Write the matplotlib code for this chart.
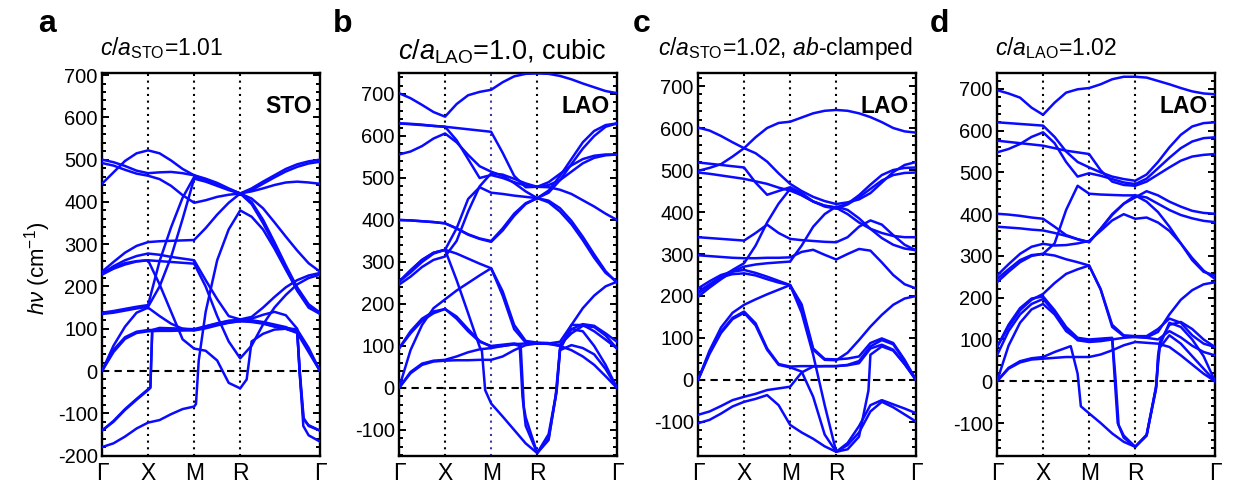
import numpy as np
import matplotlib
matplotlib.use("Agg")
import matplotlib.pyplot as plt
from matplotlib.ticker import MultipleLocator

plt.rcParams["font.family"] = "Liberation Sans"
plt.rcParams["mathtext.fontset"] = "custom"
plt.rcParams["mathtext.rm"] = "Liberation Sans"
plt.rcParams["mathtext.it"] = "Liberation Sans:italic"
plt.rcParams["axes.unicode_minus"] = False

# high-symmetry path  G-X-M-R-G
kpt_labels = ["Γ", "X", "M", "R", "Γ"]
kpt_nodes = [0.0, 1.0, 2.0, 3.0, 3.0 + np.sqrt(3.0)]
# sampling positions along the path (quarter steps, 7 steps on R-G)
k = np.concatenate([np.linspace(0, 1, 5), np.linspace(1, 2, 5)[1:],
                    np.linspace(2, 3, 5)[1:], np.linspace(3, kpt_nodes[4], 8)[1:]])

# ---- (a) STO c/a=1.01, frequencies in cm-1
bands_a = [
    [443, 470, 497, 515, 522, 515, 498, 478, 463, 452, 440, 430, 420, 432, 448, 463, 478, 489, 496, 500],
    [500, 494, 485, 474, 468, 470, 471, 468, 463, 455, 445, 432, 420, 428, 443, 458, 472, 483, 491, 495],
    [492, 486, 476, 467, 462, 454, 438, 416, 398, 404, 412, 417, 420, 425, 432, 440, 446, 448, 446, 443],
    [235, 258, 280, 296, 305, 307, 308, 309, 310, 338, 370, 398, 420, 408, 385, 352, 318, 285, 255, 235],
    [228, 242, 252, 259, 262, 260, 258, 256, 254, 200, 130, 70, 30, 60, 110, 150, 180, 205, 220, 228],
    [232, 245, 255, 260, 262, 205, 140, 75, 53, 48, 25, -28, -41, 70, 88, 98, 100, 90, 45, 0],
    [138, 142, 147, 152, 156, 260, 340, 410, 459, 450, 440, 430, 420, 400, 358, 305, 250, 198, 158, 138],
    [135, 138, 143, 148, 152, 200, 270, 360, 455, 448, 438, 428, 420, 395, 350, 298, 243, 190, 150, 135],
    [-180, -171, -155, -136, -122, -116, -102, -90, -84, 140, 262, 335, 380, 365, 335, 290, 240, 192, 155, 137],
    [0, 50, 80, 93, 97, 97, 97, 97, 98, 104, 110, 116, 120, 124, 133, 140, 132, 100, -152, -167],
    [0, 45, 76, 90, 94, 95, 95, 96, 96, 101, 108, 114, 118, 118, 114, 108, 102, 98, 55, 0],
    [0, 60, 105, 138, 150, 130, 112, 100, 97, 103, 110, 115, 118, 116, 112, 105, 100, 92, -128, -141],
    [-141, -120, -92, -68, -45, 100, 100, 99, 97, 105, 112, 118, 120, 119, 113, 106, 100, 95, -130, -141],
    [-141, -118, -90, -66, -43, 102, 101, 100, 99, 106, 113, 119, 121, 120, 116, 110, 104, 92, 50, 0],
    [230, 248, 262, 272, 278, 275, 270, 266, 262, 215, 170, 130, 122, 128, 150, 175, 198, 215, 226, 232],
]
# extra (k, freq) readings where a branch turns sharply
extra_a = {
    5: [(3.14, -20)],
    8: [(2.04, -78), (2.10, 25)],
    9: [(4.29, 0), (4.37, -130)],
    11: [(4.30, -10), (4.38, -115)],
    12: [(1.05, -40), (1.09, 95), (4.29, -5), (4.37, -110)],
    13: [(1.05, -38), (1.09, 97)],
}

# ---- (b) LAO cubic
bands_b = [
    [702, 690, 674, 657, 646, 676, 697, 705, 710, 728, 742, 748, 749, 748, 743, 735, 725, 716, 707, 702],
    [630, 629, 627, 624, 622, 619, 616, 613, 610, 560, 505, 478, 479, 478, 472, 462, 447, 432, 415, 400],
    [556, 563, 576, 594, 606, 585, 555, 528, 515, 505, 488, 468, 452, 465, 495, 533, 570, 600, 622, 630],
    [630, 628, 626, 624, 622, 590, 545, 500, 507, 500, 490, 482, 479, 483, 495, 515, 535, 548, 554, 556],
    [400, 399, 397, 395, 392, 380, 365, 355, 348, 375, 410, 438, 452, 470, 505, 545, 585, 612, 626, 630],
    [253, 275, 300, 320, 329, 380, 450, 478, 465, 462, 458, 455, 452, 442, 420, 390, 352, 310, 274, 253],
    [246, 265, 288, 305, 313, 350, 420, 480, 511, 508, 498, 487, 479, 490, 510, 530, 545, 553, 556, 556],
    [253, 280, 305, 322, 329, 320, 308, 296, 285, 220, 140, 108, 106, 106, 110, 150, 190, 220, 242, 253],
    [94, 135, 165, 182, 188, 170, 140, 112, 98, 100, 104, 106, 106, 105, 103, 130, 148, 145, 125, 94],
    [0, 90, 150, 190, 211, 232, 250, 268, 285, 230, 150, 112, 108, 107, 100, 140, 135, 100, 55, 0],
    [0, 35, 55, 63, 65, 66, 66, 67, 67, 75, 90, 102, 106, 105, 100, 90, 75, 55, 28, 0],
    [0, 38, 58, 65, 67, 75, 85, 92, 95, 100, 104, -90, -155, -124, 90, 102, 95, 80, 45, 0],
    [253, 280, 305, 322, 329, 257, 178, 98, -37, -68, -100, -132, -155, -120, 90, 150, 150, 135, 115, 94],
    [400, 399, 397, 395, 392, 380, 366, 356, 350, 380, 415, 440, 452, 446, 428, 398, 360, 318, 278, 250],
    [94, 130, 160, 178, 188, 165, 135, 110, 100, 103, 106, -70, -155, -110, 95, 140, 152, 148, 130, 110],
]
extra_b = {
    11: [(2.62, 100), (2.68, -20), (3.42, -5)],
    12: [(1.80, 88), (1.87, -5), (3.42, -10)],
    14: [(2.64, 103), (2.71, -45), (3.40, -20)],
}

# ---- (c) LAO on STO, c/a=1.02, ab-clamped
bands_c = [
    [498, 505, 514, 532, 552, 578, 600, 612, 615, 625, 635, 641, 643, 641, 635, 626, 614, 600, 592, 589],
    [601, 594, 581, 566, 552, 540, 520, 492, 467, 450, 436, 426, 419, 423, 430, 445, 470, 495, 512, 519],
    [518, 515, 512, 509, 506, 470, 441, 450, 459, 445, 425, 415, 411, 420, 440, 465, 488, 500, 505, 506],
    [494, 491, 487, 483, 479, 473, 467, 458, 451, 440, 425, 413, 408, 418, 435, 455, 475, 488, 493, 494],
    [340, 338, 336, 334, 332, 350, 370, 350, 336, 333, 331, 329, 328, 340, 365, 380, 370, 345, 322, 309],
    [297, 295, 293, 291, 290, 290, 291, 291, 292, 305, 310, 298, 287, 300, 312, 308, 280, 250, 228, 218],
    [206, 225, 245, 262, 278, 320, 375, 420, 455, 440, 425, 415, 410, 395, 375, 360, 350, 343, 340, 340],
    [198, 220, 240, 258, 270, 275, 278, 280, 282, 320, 365, 395, 413, 405, 385, 360, 338, 322, 313, 309],
    [218, 235, 250, 258, 262, 255, 246, 236, 226, 180, 75, 50, 49, 51, 56, 88, 99, 88, 48, 0],
    [0, 70, 125, 160, 179, 192, 204, 215, 226, 170, 72, 48, 47, 65, 95, 127, 155, 179, 194, 200],
    [0, 65, 115, 148, 163, 135, 75, 38, 32, 33, 33, 33, 33, 35, 40, 75, 84, 72, 38, 0],
    [-83, -75, -62, -48, -40, -33, -24, -20, -16, 18, 32, 33, 33, 36, 45, 80, 95, 85, 45, 0],
    [-103, -95, -80, -63, -52, -45, -36, -60, -107, -125, -140, -158, -171, -155, -125, -75, -52, -65, -82, -99],
    [0, 62, 112, 145, 160, 130, 72, 36, 30, 20, -40, -130, -171, -150, -110, -60, -48, -58, -68, -79],
    [210, 228, 245, 252, 254, 249, 240, 232, 226, 160, 60, -60, -171, -165, -135, 60, 80, 70, 38, 0],
]
extra_c = {
    14: [(3.70, -25)],
}

# ---- (d) LAO c/a=1.02
bands_d = [
    [697, 689, 679, 655, 638, 667, 691, 699, 702, 711, 723, 729, 729, 727, 719, 711, 702, 694, 689, 687],
    [620, 618, 616, 614, 612, 585, 550, 525, 512, 500, 490, 484, 480, 495, 525, 560, 590, 610, 618, 620],
    [548, 556, 568, 585, 596, 570, 525, 490, 498, 492, 484, 476, 472, 485, 510, 535, 558, 574, 582, 584],
    [576, 573, 570, 567, 564, 558, 552, 548, 544, 505, 478, 470, 468, 478, 495, 512, 528, 538, 542, 544],
    [401, 399, 396, 392, 389, 370, 350, 340, 333, 365, 400, 425, 440, 455, 445, 430, 418, 408, 403, 401],
    [370, 368, 366, 363, 361, 355, 348, 340, 333, 365, 398, 425, 445, 440, 425, 410, 398, 390, 384, 381],
    [245, 268, 290, 302, 305, 330, 410, 468, 449, 447, 446, 445, 445, 430, 405, 370, 330, 290, 262, 253],
    [253, 280, 305, 322, 329, 325, 326, 330, 336, 360, 385, 400, 389, 392, 380, 360, 330, 295, 265, 245],
    [237, 262, 285, 300, 305, 301, 292, 285, 277, 220, 130, 108, 106, 105, 118, 160, 195, 218, 232, 237],
    [82, 130, 170, 195, 209, 235, 257, 268, 277, 220, 135, 110, 108, 108, 125, 150, 140, 110, 90, 82],
    [62, 120, 160, 185, 197, 165, 125, 98, 94, 96, 100, 104, 106, 104, 100, 120, 105, 85, 70, 62],
    [0, 30, 45, 52, 54, 56, 58, 58, 58, 64, 74, 86, 94, 92, 90, 82, 62, 40, 18, 0],
    [0, 32, 48, 55, 58, 70, 80, 18, -77, -100, -125, -145, -157, -130, 40, 110, 90, 60, 30, 0],
    [0, 85, 140, 172, 185, 160, 120, 100, 96, 100, 103, -135, -157, -130, 50, 140, 130, 100, 60, 0],
    [82, 135, 175, 198, 203, 170, 130, 104, 100, 102, 104, -130, -157, -128, 60, 135, 142, 125, 100, 82],
]
extra_d = {
    12: [(1.60, 84), (1.82, -60), (3.45, -20), (3.53, 80)],
    13: [(2.55, 15), (2.62, -100), (3.45, -15), (3.53, 85)],
    14: [(2.57, 10), (2.64, -105), (3.46, -10), (3.54, 95)],
}

panels = [
    dict(bands=bands_a, extra=extra_a, ylim=(-201, 705), ymin_tick=-200, tag="STO", letter="a",
         title=r"$c/a_{\mathrm{STO}}$=1.01", left=102, tx=100, ty=55, tsize=16.5, lx=38, mcol="black"),
    dict(bands=bands_b, extra=extra_b, ylim=(-162, 750), ymin_tick=-100, tag="LAO", letter="b",
         title=r"$c/a_{\mathrm{LAO}}$=1.0, cubic", left=399, tx=398, ty=59, tsize=19.5, lx=333,
         mcol="#3a3aa0"),
    dict(bands=bands_c, extra=extra_c, ylim=(-181, 731), ymin_tick=-100, tag="LAO", letter="c",
         title=r"$c/a_{\mathrm{STO}}$=1.02, $ab$-clamped", left=698, tx=658, ty=55, tsize=16.5,
         lx=633, mcol="black"),
    dict(bands=bands_d, extra=extra_d, ylim=(-179, 738), ymin_tick=-100, tag="LAO", letter="d",
         title=r"$c/a_{\mathrm{LAO}}$=1.02", left=997, tx=995, ty=55, tsize=16.5, lx=930,
         mcol="black"),
]

W, H = 1233, 492
fig = plt.figure(figsize=(W / 100, H / 100), dpi=100)

for p in panels:
    ax = fig.add_axes([p["left"] / W, 1 - 456 / H, 218 / W, 383 / H])
    for i, b in enumerate(p["bands"]):
        kk = list(k)
        ee = list(b)
        for kx, ex in p["extra"].get(i, []):
            kk.append(kx)
            ee.append(ex)
        order = np.argsort(kk)
        ax.plot(np.array(kk)[order], np.array(ee)[order], color="#0a0aff", lw=1.8,
                solid_capstyle="round", solid_joinstyle="round", zorder=3)
    for i, xv in enumerate(kpt_nodes[1:4]):
        c = p["mcol"] if i == 1 else "black"
        ax.axvline(xv, color=c, ls=(0, (1, 2.2)), lw=1.5, zorder=2)
    ax.axhline(0, color="black", ls=(0, (3.5, 2.5)), lw=1.5, zorder=2)
    ax.set_xlim(0, kpt_nodes[-1])
    ax.set_ylim(*p["ylim"])
    ax.set_xticks(kpt_nodes)
    ax.set_xticklabels(kpt_labels, fontsize=16.5)
    ax.tick_params(axis="x", length=0, pad=4)
    ax.set_yticks(np.arange(p["ymin_tick"], 701, 100))
    ax.yaxis.set_minor_locator(MultipleLocator(20))
    ax.tick_params(axis="y", which="both", direction="in", left=True, right=True,
                   labelsize=14.5, width=1.4, pad=3)
    ax.tick_params(axis="y", which="major", length=5)
    ax.tick_params(axis="y", which="minor", length=3)
    for s in ax.spines.values():
        s.set_linewidth(1.7)
    ax.text(0.965, 0.895, p["tag"], transform=ax.transAxes, ha="right",
            va="baseline", fontsize=16.5, fontweight="bold", zorder=5)
    fig.text(p["tx"] / W, 1 - p["ty"] / H, p["title"], fontsize=p["tsize"],
             ha="left", va="baseline")
    fig.text(p["lx"] / W, 1 - 32 / H, p["letter"], fontsize=23, fontweight="bold",
             ha="left", va="baseline")

fig.text(38 / W, 1 - 268 / H, r"$h\nu$ (cm$^{-1}$)", rotation=90, fontsize=16,
         ha="center", va="center")

fig.savefig("out.png", dpi=100)
